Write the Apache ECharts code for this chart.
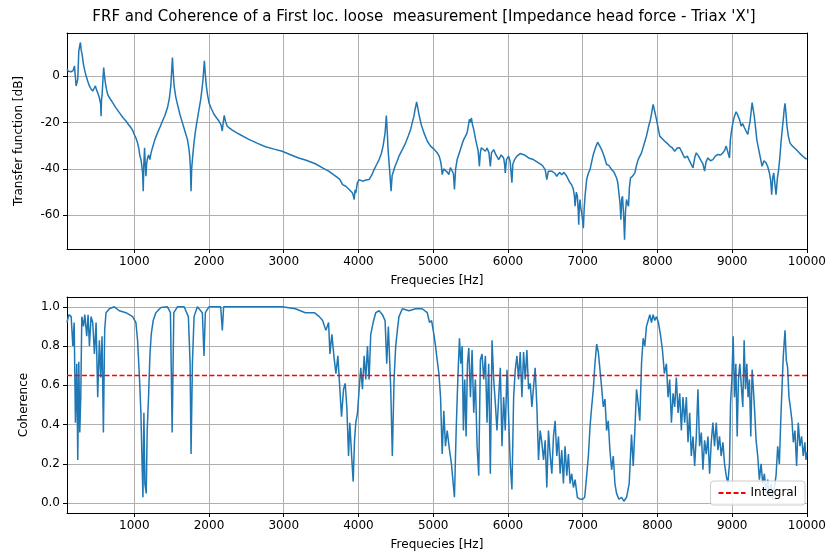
<!DOCTYPE html>
<html>
<head>
<meta charset="utf-8">
<script src="https://cdn.jsdelivr.net/npm/echarts@6/dist/echarts.min.js"></script>
<style>html,body{margin:0;padding:0;background:#fff;}#c{width:829px;height:554px;}</style>
</head>
<body>
<div id="c"></div>
<script>
const titleText = "FRF and Coherence of a First loc. loose  measurement [Impedance head force - Triax 'X']";
const xTicks = [1000,2000,3000,4000,5000,6000,7000,8000,9000,10000];
const frfTicks = [-60,-40,-20,0];
const cohTicks = [0,0.2,0.4,0.6,0.8,1.0];
const integralLevel = 0.65;

// FRF [frequency Hz, dB]
const frfData = [
[100,3],[120,2],[150,1.8],[180,2.2],[200,4.3],[222,-4.3],[244,-1.4],[258,10.8],[270,13],[280,14.4],[290,11],[302,9.4],[320,5],[340,2],[356,0],[380,-2.5],[400,-4.3],[420,-5.5],[444,-6.5],[460,-5.5],[480,-4.3],[495,-6],[511,-7.2],[533,-9.4],[550,-12],[556,-17.3],[562,-10],[569,-8.6],[580,-2],[591,3.6],[600,0.5],[613,-2.9],[630,-6],[644,-7.9],[670,-9.5],[711,-11.5],[750,-13.5],[800,-15.8],[850,-18],[889,-19.4],[920,-20.8],[956,-22.3],[980,-23.5],[1000,-25.2],[1020,-26.5],[1044,-28.8],[1060,-31],[1076,-34.5],[1090,-36],[1102,-38.9],[1112,-42],[1120,-49.6],[1128,-38],[1138,-30.9],[1147,-38],[1156,-43.2],[1165,-38],[1178,-35.3],[1192,-34],[1209,-36],[1225,-33],[1244,-30.9],[1275,-27.5],[1311,-24.5],[1345,-22],[1378,-19.4],[1410,-17],[1444,-13.7],[1470,-9.5],[1489,-4.3],[1500,2],[1511,7.9],[1520,2],[1533,-4.3],[1555,-9],[1578,-12.2],[1610,-16.5],[1644,-20.1],[1680,-24],[1711,-27.3],[1730,-31],[1742,-34.5],[1752,-40],[1760,-49.6],[1768,-40],[1782,-34.5],[1800,-28.5],[1822,-23],[1855,-16.5],[1889,-10.1],[1905,-6],[1920,-1.4],[1938,6.5],[1950,1],[1964,-4.3],[1980,-8],[2000,-11.5],[2030,-14],[2067,-16.5],[2100,-18],[2133,-19.4],[2160,-21],[2178,-23.7],[2190,-20],[2204,-17],[2220,-19.5],[2244,-21.6],[2280,-22.6],[2311,-23.3],[2400,-25],[2533,-27.3],[2650,-29],[2756,-30.5],[2870,-31.5],[2978,-32.4],[3100,-34],[3200,-35.3],[3300,-36.3],[3422,-37.8],[3520,-39.6],[3600,-41],[3698,-43.2],[3750,-44.5],[3787,-46.8],[3830,-47.5],[3876,-48.9],[3900,-49.5],[3920,-50.4],[3935,-52],[3942,-53.2],[3955,-49],[3964,-50.4],[3985,-46],[4009,-44.6],[4030,-44],[4053,-45.3],[4100,-44.8],[4142,-44.6],[4180,-42.5],[4209,-40.3],[4245,-38],[4276,-36],[4305,-33.5],[4329,-30.2],[4356,-24.5],[4373,-17],[4385,-24],[4396,-31.7],[4420,-42],[4436,-49.6],[4450,-43],[4489,-38.9],[4520,-36.5],[4542,-34.5],[4590,-31.5],[4631,-28.8],[4670,-25.5],[4698,-23],[4720,-20],[4742,-17.3],[4760,-14],[4778,-11.2],[4795,-14],[4809,-16.5],[4840,-21],[4876,-24.5],[4920,-28],[4964,-30.2],[5010,-31.5],[5053,-33.1],[5080,-34.5],[5098,-36.7],[5110,-39],[5120,-42.5],[5140,-40],[5164,-40.3],[5190,-41.5],[5209,-42.5],[5230,-39.5],[5253,-40.3],[5270,-42],[5284,-48.9],[5300,-40],[5320,-36],[5340,-34],[5364,-31.7],[5390,-29],[5409,-27.3],[5430,-26],[5453,-24.5],[5470,-21.5],[5484,-18.7],[5500,-20],[5511,-18],[5525,-21],[5542,-23],[5565,-27],[5587,-30.2],[5600,-32],[5618,-38.9],[5630,-33],[5644,-30.9],[5670,-31.5],[5698,-32.4],[5720,-31],[5745,-33],[5764,-38.9],[5780,-33],[5809,-31.7],[5840,-34],[5876,-36],[5910,-34],[5942,-35.3],[5955,-38],[5964,-41.7],[5980,-36],[6009,-34.5],[6030,-37],[6053,-46],[6065,-38],[6089,-36],[6120,-34.5],[6164,-33.4],[6220,-34],[6276,-35.3],[6340,-36],[6409,-37.4],[6460,-38.5],[6498,-40.3],[6510,-41],[6520,-44.6],[6540,-41],[6587,-41],[6609,-41.7],[6630,-42],[6653,-43.2],[6690,-41.5],[6720,-42.5],[6750,-41.5],[6787,-43.2],[6810,-44],[6831,-46],[6855,-47],[6876,-48.9],[6890,-52],[6898,-56.1],[6915,-50],[6929,-51.8],[6940,-58],[6947,-64],[6955,-56],[6964,-53.2],[6975,-57],[6987,-59],[6998,-62],[7009,-65.5],[7020,-57],[7031,-51.8],[7053,-44.6],[7075,-42],[7098,-40.3],[7120,-37],[7142,-33.8],[7170,-31],[7200,-28.5],[7225,-30],[7253,-31.7],[7285,-34.5],[7320,-38.1],[7350,-38.5],[7387,-40.3],[7420,-41.5],[7453,-43.9],[7470,-46],[7489,-51.8],[7500,-55],[7511,-61.9],[7522,-53],[7533,-51.8],[7548,-60],[7560,-70.5],[7573,-58],[7587,-53.2],[7600,-55],[7613,-56.1],[7625,-48],[7640,-43.9],[7670,-43],[7698,-41.7],[7720,-38.5],[7742,-36],[7765,-34.5],[7787,-33.1],[7820,-29.5],[7853,-25.9],[7880,-22],[7907,-18.7],[7925,-15.5],[7942,-12.2],[7965,-15.5],[7987,-18.7],[8010,-22.5],[8031,-25.9],[8065,-27],[8098,-28.1],[8130,-29],[8164,-30.2],[8200,-31],[8231,-32.4],[8265,-31],[8298,-30.9],[8330,-33],[8364,-35.3],[8400,-34.5],[8431,-36.7],[8455,-37],[8476,-39.6],[8500,-35],[8520,-33.1],[8550,-34.5],[8587,-36.7],[8610,-38],[8631,-41],[8650,-37],[8676,-35.3],[8710,-36.5],[8742,-36],[8775,-34.5],[8809,-33.8],[8845,-34],[8876,-33.1],[8900,-32],[8920,-30.2],[8945,-31],[8964,-35.3],[8975,-28],[8987,-24.5],[9010,-20],[9031,-17.3],[9053,-15.4],[9070,-16.5],[9084,-15.8],[9100,-19],[9120,-21.6],[9140,-20.5],[9164,-22.3],[9190,-22],[9209,-25.2],[9225,-22],[9240,-19.4],[9255,-15],[9267,-11.5],[9282,-14.5],[9298,-18],[9312,-22],[9329,-27.3],[9345,-30],[9364,-33.1],[9382,-36],[9400,-38.9],[9425,-36.5],[9453,-37.4],[9475,-39],[9498,-41.7],[9515,-45],[9529,-51.1],[9542,-44],[9556,-41.7],[9570,-46],[9587,-51.1],[9605,-44],[9622,-40.3],[9638,-35],[9653,-28.8],[9670,-23],[9684,-18.7],[9697,-14],[9707,-11.8],[9720,-16],[9733,-21.6],[9752,-26],[9773,-28.8],[9800,-30],[9831,-30.9],[9865,-32],[9898,-33.1],[9920,-33.5],[9942,-34.5],[9965,-35],[9987,-35.7],[10000,-35.5]
];

// Coherence [frequency Hz, coherence]
const cohData = [
[100,0.92],[124,0.96],[156,0.95],[178,0.80],[196,0.92],[213,0.41],[231,0.71],[244,0.22],[258,0.72],[271,0.36],[284,0.54],[298,0.95],[320,0.90],[338,0.96],[364,0.85],[382,0.96],[400,0.80],[422,0.95],[444,0.92],[467,0.76],[489,0.92],[511,0.54],[533,0.83],[551,0.64],[569,0.85],[587,0.36],[604,0.88],[622,0.97],[667,0.99],[733,1.0],[800,0.98],[889,0.97],[978,0.95],[1022,0.92],[1044,0.83],[1067,0.66],[1089,0.46],[1102,0.24],[1116,0.03],[1129,0.46],[1142,0.10],[1160,0.05],[1173,0.37],[1191,0.54],[1209,0.75],[1227,0.86],[1253,0.93],[1289,0.97],[1356,0.997],[1444,1.0],[1484,0.97],[1507,0.36],[1529,0.97],[1578,1.0],[1667,1.0],[1724,0.95],[1747,0.71],[1760,0.25],[1778,0.71],[1800,0.95],[1844,1.0],[1911,0.97],[1933,0.75],[1951,0.97],[2000,1.0],[2156,1.0],[2178,0.88],[2196,1.0],[2311,1.0],[2978,1.0],[3156,0.99],[3289,0.97],[3342,0.97],[3409,0.97],[3476,0.95],[3520,0.93],[3564,0.88],[3600,0.92],[3618,0.76],[3644,0.86],[3671,0.75],[3698,0.66],[3724,0.75],[3751,0.58],[3773,0.44],[3800,0.58],[3822,0.61],[3844,0.49],[3867,0.24],[3884,0.41],[3907,0.25],[3929,0.11],[3947,0.32],[3964,0.41],[3987,0.46],[4009,0.58],[4031,0.69],[4053,0.58],[4076,0.75],[4098,0.63],[4120,0.80],[4142,0.63],[4164,0.86],[4196,0.92],[4231,0.97],[4276,0.98],[4320,0.96],[4356,0.93],[4378,0.71],[4400,0.90],[4431,0.59],[4453,0.24],[4476,0.63],[4498,0.80],[4520,0.88],[4542,0.95],[4587,0.99],[4676,0.98],[4764,0.99],[4853,0.99],[4920,0.97],[4951,0.92],[4978,0.93],[5009,0.86],[5031,0.80],[5053,0.73],[5076,0.66],[5098,0.54],[5120,0.25],[5142,0.47],[5164,0.29],[5187,0.37],[5218,0.27],[5244,0.20],[5267,0.10],[5284,0.03],[5307,0.37],[5329,0.63],[5351,0.84],[5369,0.71],[5387,0.80],[5404,0.37],[5422,0.63],[5440,0.34],[5458,0.71],[5476,0.79],[5498,0.54],[5520,0.78],[5542,0.46],[5564,0.63],[5587,0.29],[5609,0.14],[5631,0.73],[5653,0.76],[5676,0.63],[5698,0.75],[5720,0.41],[5742,0.71],[5764,0.15],[5787,0.83],[5809,0.63],[5831,0.51],[5853,0.37],[5876,0.54],[5898,0.69],[5920,0.29],[5942,0.54],[5964,0.37],[5987,0.68],[6009,0.44],[6031,0.20],[6053,0.07],[6076,0.54],[6098,0.68],[6120,0.75],[6142,0.63],[6164,0.77],[6187,0.54],[6209,0.77],[6231,0.63],[6253,0.78],[6276,0.58],[6298,0.61],[6320,0.49],[6342,0.59],[6364,0.69],[6387,0.49],[6409,0.22],[6431,0.37],[6453,0.31],[6476,0.22],[6498,0.32],[6520,0.08],[6542,0.37],[6564,0.25],[6587,0.15],[6609,0.34],[6631,0.42],[6653,0.24],[6676,0.34],[6698,0.15],[6720,0.27],[6742,0.10],[6764,0.29],[6787,0.14],[6809,0.25],[6831,0.10],[6853,0.15],[6876,0.08],[6898,0.12],[6929,0.03],[6964,0.02],[7000,0.02],[7027,0.03],[7053,0.14],[7076,0.24],[7098,0.39],[7120,0.49],[7142,0.58],[7164,0.71],[7187,0.81],[7209,0.77],[7231,0.68],[7253,0.59],[7276,0.49],[7298,0.53],[7320,0.37],[7342,0.42],[7364,0.27],[7387,0.17],[7409,0.24],[7431,0.10],[7453,0.05],[7484,0.02],[7520,0.03],[7551,0.01],[7587,0.03],[7622,0.10],[7653,0.35],[7676,0.19],[7698,0.37],[7720,0.58],[7742,0.51],[7764,0.42],[7787,0.71],[7809,0.84],[7831,0.80],[7853,0.90],[7876,0.93],[7898,0.96],[7920,0.92],[7942,0.96],[7964,0.93],[7987,0.95],[8013,0.92],[8040,0.86],[8067,0.78],[8093,0.66],[8120,0.71],[8142,0.54],[8164,0.63],[8187,0.41],[8209,0.56],[8231,0.49],[8253,0.64],[8276,0.46],[8298,0.56],[8320,0.37],[8342,0.54],[8364,0.41],[8387,0.54],[8409,0.31],[8431,0.46],[8453,0.24],[8476,0.34],[8498,0.19],[8520,0.34],[8542,0.58],[8564,0.29],[8587,0.36],[8609,0.17],[8631,0.32],[8653,0.25],[8676,0.34],[8698,0.15],[8720,0.31],[8742,0.41],[8764,0.29],[8787,0.41],[8809,0.27],[8831,0.34],[8853,0.24],[8876,0.31],[8898,0.20],[8920,0.14],[8942,0.10],[8964,0.20],[8978,0.51],[8996,0.63],[9013,0.85],[9031,0.54],[9049,0.71],[9067,0.34],[9084,0.63],[9102,0.71],[9120,0.61],[9142,0.49],[9160,0.83],[9178,0.58],[9196,0.71],[9213,0.54],[9231,0.63],[9249,0.34],[9267,0.68],[9284,0.58],[9302,0.46],[9320,0.32],[9342,0.24],[9364,0.12],[9387,0.20],[9409,0.10],[9431,0.15],[9453,0.05],[9476,0.12],[9498,0.03],[9520,0.10],[9542,0.02],[9564,0.03],[9587,0.14],[9609,0.29],[9631,0.20],[9649,0.41],[9667,0.59],[9684,0.75],[9707,0.88],[9724,0.73],[9742,0.69],[9760,0.54],[9778,0.49],[9800,0.42],[9818,0.31],[9840,0.37],[9862,0.19],[9884,0.41],[9907,0.29],[9929,0.34],[9951,0.24],[9973,0.31],[9987,0.22],[10000,0.26]
];

const FONT = 'DejaVu Sans';
const FS = 12;
const xMin = 100, xMax = 10000;
const grids = [
  {left: 67, top: 33, width: 742, height: 216},
  {left: 67, top: 297, width: 742, height: 216}
];
const gridColor = '#b0b0b0';
const RED = '#ff0000';
const BLUE = '#1f77b4';
const dashStyle = {color: RED, width: 1.6, type: [5, 2.5], opacity: 1};

function mainX(gi) {
  return {
    type: 'value', gridIndex: gi, min: xMin, max: xMax, position: 'bottom',
    name: 'Frequecies [Hz]', nameLocation: 'middle', nameGap: 26,
    nameTextStyle: {fontFamily: FONT, fontSize: FS, color: '#000'},
    axisLine: {show: true, onZero: false, lineStyle: {color: '#000', width: 1}},
    axisTick: {show: true, length: 4, customValues: xTicks, lineStyle: {color: '#000'}},
    axisLabel: {customValues: xTicks, margin: 7, fontFamily: FONT, fontSize: FS, color: '#000',
      formatter: v => String(Math.round(v))},
    splitLine: {show: true, lineStyle: {color: gridColor, width: 1}}
  };
}
function frameX(gi) {
  return {type: 'value', gridIndex: gi, min: xMin, max: xMax, position: 'top',
    axisLine: {show: true, onZero: false, lineStyle: {color: '#000', width: 1}},
    axisTick: {show: false}, axisLabel: {show: false}, splitLine: {show: false}};
}
function frameY(gi, mn, mx) {
  return {type: 'value', gridIndex: gi, min: mn, max: mx, position: 'right',
    axisLine: {show: true, onZero: false, lineStyle: {color: '#000', width: 1}},
    axisTick: {show: false}, axisLabel: {show: false}, splitLine: {show: false}};
}

const option = {
  animation: false,
  backgroundColor: '#fff',
  textStyle: {fontFamily: FONT},
  title: {
    text: titleText, left: 419, top: 5, textAlign: 'center',
    textStyle: {fontFamily: FONT, fontSize: 15, fontWeight: 'normal', color: '#000'}
  },
  legend: {
    data: ['Integral'], right: 24, top: 481, orient: 'horizontal',
    padding: [6, 8, 6, 7], itemWidth: 27, itemHeight: 10,
    itemStyle: {opacity: 0},
    textStyle: {fontFamily: FONT, fontSize: FS, color: '#000'},
    backgroundColor: 'rgba(255,255,255,0.85)', borderColor: '#cccccc', borderWidth: 1, borderRadius: 3
  },
  grid: grids,
  xAxis: [mainX(0), mainX(1), frameX(0), frameX(1)],
  yAxis: [
    {type: 'value', gridIndex: 0, min: -74.5, max: 18.5,
     name: 'Transfer function [dB]', nameLocation: 'middle', nameGap: 42, nameRotate: 90,
     nameTextStyle: {fontFamily: FONT, fontSize: FS, color: '#000'},
     axisLine: {show: true, onZero: false, lineStyle: {color: '#000', width: 1}},
     axisTick: {show: true, length: 4, customValues: frfTicks, lineStyle: {color: '#000'}},
     axisLabel: {customValues: frfTicks, margin: 7, fontFamily: FONT, fontSize: FS, color: '#000'},
     splitLine: {show: true, lineStyle: {color: gridColor, width: 1}}},
    {type: 'value', gridIndex: 1, min: -0.05, max: 1.05,
     name: 'Coherence', nameLocation: 'middle', nameGap: 36, nameRotate: 90,
     nameTextStyle: {fontFamily: FONT, fontSize: FS, color: '#000'},
     axisLine: {show: true, onZero: false, lineStyle: {color: '#000', width: 1}},
     axisTick: {show: true, length: 4, customValues: cohTicks, lineStyle: {color: '#000'}},
     axisLabel: {customValues: cohTicks, margin: 7, fontFamily: FONT, fontSize: FS, color: '#000',
       formatter: v => v.toFixed(1)},
     splitLine: {show: true, lineStyle: {color: gridColor, width: 1}}},
    frameY(0, -74.5, 18.5),
    frameY(1, -0.05, 1.05)
  ],
  series: [
    {name: 'FRF', type: 'line', xAxisIndex: 0, yAxisIndex: 0, data: frfData,
     showSymbol: false, symbol: 'none', color: BLUE, lineStyle: {color: BLUE, width: 1.5}, itemStyle: {color: BLUE}},
    {name: 'Coherence', type: 'line', xAxisIndex: 1, yAxisIndex: 1, data: cohData,
     showSymbol: false, symbol: 'none', color: BLUE, lineStyle: {color: BLUE, width: 1.5}, itemStyle: {color: BLUE}},
    {name: 'Integral', type: 'line', xAxisIndex: 1, yAxisIndex: 1, z: 5,
     data: [[xMin, integralLevel], [xMax, integralLevel]],
     showSymbol: false, symbol: 'none', color: RED,
     lineStyle: dashStyle, itemStyle: {color: RED}}
  ]
};

const chart = echarts.init(document.getElementById('c'), null, {renderer: 'canvas'});
chart.setOption(option);
</script>
</body>
</html>
